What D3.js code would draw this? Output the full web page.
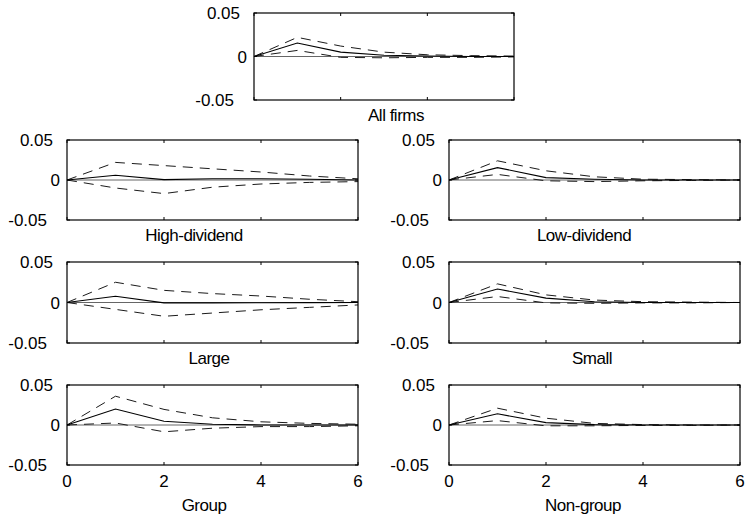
<!DOCTYPE html>
<html><head><meta charset="utf-8">
<script src="https://cdn.jsdelivr.net/npm/d3@7"></script>
<style>
body{margin:0;background:#fff}
svg text{font-family:"Liberation Sans",Arial,Helvetica,sans-serif;font-size:17px;fill:#000}
</style>
</head><body>
<svg id="chart" width="745" height="519"></svg>
<script>
// ---- data ----
const horizons = [0, 1, 2, 3, 4, 5, 6];
const xTicks = [0, 2, 4, 6];
const yTicks = [-0.05, 0, 0.05];
const yTickLabels = ["-0.05", "0", "0.05"];
const xTickLabels = ["0", "2", "4", "6"];
const panelNames = ["All firms", "High-dividend", "Low-dividend", "Large", "Small", "Group", "Non-group"];

const allIrf   = [0, 0.0155, 0.0050, 0.0015, 0.0005, 0.0000, 0.0000];
const allUp    = [0, 0.0220, 0.0120, 0.0050, 0.0020, 0.0010, 0.0005];
const allLo    = [0, 0.0070, -0.0010, -0.0015, -0.0010, -0.0010, -0.0005];

const highIrf  = [0, 0.0060, 0.0005, 0.0015, 0.0015, 0.0010, 0.0000];
const highUp   = [0, 0.0220, 0.0180, 0.0140, 0.0100, 0.0050, 0.0015];
const highLo   = [0, -0.0100, -0.0170, -0.0090, -0.0050, -0.0030, -0.0020];

const lowIrf   = [0, 0.0155, 0.0030, 0.0010, 0.0000, 0.0000, 0.0000];
const lowUp    = [0, 0.0240, 0.0115, 0.0040, 0.0010, 0.0005, 0.0000];
const lowLo    = [0, 0.0070, -0.0010, -0.0020, -0.0010, -0.0005, 0.0000];

const largeIrf = [0, 0.0077, -0.0005, -0.0005, -0.0003, -0.0002, 0.0000];
const largeUp  = [0, 0.0250, 0.0150, 0.0110, 0.0080, 0.0040, 0.0010];
const largeLo  = [0, -0.0085, -0.0170, -0.0130, -0.0090, -0.0060, -0.0030];

const smallIrf = [0, 0.0167, 0.0054, 0.0010, 0.0000, 0.0000, 0.0000];
const smallUp  = [0, 0.0230, 0.0094, 0.0030, 0.0010, 0.0005, 0.0000];
const smallLo  = [0, 0.0074, -0.0005, -0.0010, -0.0005, -0.0005, 0.0000];

const groupIrf = [0, 0.0200, 0.0047, 0.0010, 0.0000, 0.0000, 0.0000];
const groupUp  = [0, 0.0360, 0.0195, 0.0090, 0.0040, 0.0020, 0.0010];
const groupLo  = [0, 0.0025, -0.0085, -0.0040, -0.0020, -0.0020, -0.0010];

const nonIrf   = [0, 0.0140, 0.0030, 0.0005, 0.0000, 0.0000, 0.0000];
const nonUp    = [0, 0.0210, 0.0085, 0.0020, 0.0005, 0.0000, 0.0000];
const nonLo    = [0, 0.0055, -0.0010, -0.0010, -0.0005, -0.0005, 0.0000];

const seriesByPanel = [
  [allIrf, allUp, allLo],
  [highIrf, highUp, highLo],
  [lowIrf, lowUp, lowLo],
  [largeIrf, largeUp, largeLo],
  [smallIrf, smallUp, smallLo],
  [groupIrf, groupUp, groupLo],
  [nonIrf, nonUp, nonLo]
];

// ---- layout ----
const layout = [
  {x: 254, y: 13,  w: 260, h: 87, titleX: 396, xlabels: false},
  {x: 67,  y: 140, w: 291, h: 80, titleX: 194, xlabels: false},
  {x: 449, y: 140, w: 291, h: 80, titleX: 584, xlabels: false},
  {x: 67,  y: 262, w: 291, h: 81, titleX: 209, xlabels: false},
  {x: 449, y: 262, w: 291, h: 81, titleX: 592, xlabels: false},
  {x: 67,  y: 385, w: 291, h: 80, titleX: 204, xlabels: true},
  {x: 449, y: 385, w: 291, h: 80, titleX: 583, xlabels: true}
];
const yLabelGap = {"-0.05": 20, "0": 7, "0.05": 14};

const svg = d3.select("#chart");

layout.forEach((L, i) => {
  const [irf, up, lo] = seriesByPanel[i];
  const g = svg.append("g").attr("transform", `translate(${L.x},${L.y})`);
  const x = d3.scaleLinear().domain([0, 6]).range([0, L.w]);
  const y = d3.scaleLinear().domain([-0.05, 0.05]).range([L.h, 0]);

  // zero reference line
  g.append("line")
    .attr("x1", 0).attr("x2", L.w)
    .attr("y1", y(0)).attr("y2", y(0))
    .attr("stroke", "#666").attr("stroke-width", 1);

  const line = d3.line().x((d, k) => x(horizons[k])).y(d => y(d));

  [up, lo].forEach(s => {
    g.append("path").datum(s)
      .attr("d", line)
      .attr("fill", "none")
      .attr("stroke", "#1a1a1a")
      .attr("stroke-width", 1)
      .attr("stroke-dasharray", "10,7");
  });
  g.append("path").datum(irf)
    .attr("d", line)
    .attr("fill", "none")
    .attr("stroke", "#000")
    .attr("stroke-width", 1.1);

  // inward ticks
  const tl = 3;
  xTicks.forEach(t => {
    g.append("line").attr("x1", x(t)).attr("x2", x(t)).attr("y1", L.h).attr("y2", L.h - tl).attr("stroke", "#000");
    g.append("line").attr("x1", x(t)).attr("x2", x(t)).attr("y1", 0).attr("y2", tl).attr("stroke", "#000");
  });
  yTicks.forEach(t => {
    g.append("line").attr("x1", 0).attr("x2", tl).attr("y1", y(t)).attr("y2", y(t)).attr("stroke", "#000");
    g.append("line").attr("x1", L.w).attr("x2", L.w - tl).attr("y1", y(t)).attr("y2", y(t)).attr("stroke", "#000");
  });

  // box
  g.append("rect")
    .attr("x", 0).attr("y", 0).attr("width", L.w).attr("height", L.h)
    .attr("fill", "none").attr("stroke", "#000").attr("stroke-width", 1.2);

  // y tick labels
  yTicks.forEach((t, k) => {
    g.append("text")
      .attr("x", -yLabelGap[yTickLabels[k]])
      .attr("y", y(t))
      .attr("dy", "0.36em")
      .attr("text-anchor", "end")
      .text(yTickLabels[k]);
  });

  // x tick labels
  if (L.xlabels) {
    xTicks.forEach((t, k) => {
      g.append("text")
        .attr("x", x(t))
        .attr("y", L.h + 22)
        .attr("text-anchor", "middle")
        .text(xTickLabels[k]);
    });
  }

  // panel title
  svg.append("text")
    .attr("x", L.titleX)
    .attr("y", L.y + L.h + (L.xlabels ? 46 : 21))
    .attr("text-anchor", "middle")
    .attr("letter-spacing", "-0.5")
    .text(panelNames[i]);
});
</script>
</body></html>
